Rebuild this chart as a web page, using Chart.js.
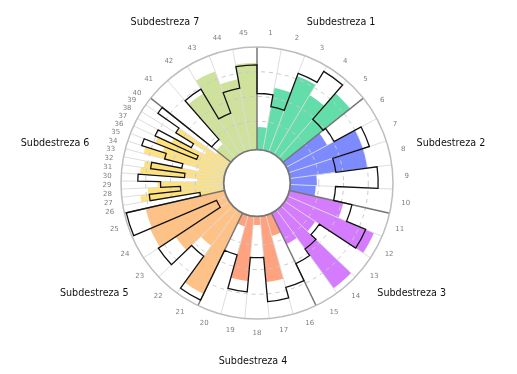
<!DOCTYPE html>
<html>
<head>
<meta charset="utf-8">
<title>Subdestrezas</title>
<script src="https://cdn.jsdelivr.net/npm/chart.js@4.4.1/dist/chart.umd.min.js"></script>
<style>
  html, body { margin: 0; padding: 0; background: #fff; }
  #wrap { width: 517px; height: 374px; }
</style>
</head>
<body>
<div id="wrap"><canvas id="chartSubdestrezas" width="517" height="374"></canvas></div>
<script>
// ---------------------------------------------------------------
// Datos
// ---------------------------------------------------------------
const ITEMS = ['1','2','3','4','5','6','7','8','9','10','11','12','13','14','15',
  '16','17','18','19','20','21','22','23','24','25','26','27','28','29','30',
  '31','32','33','34','35','36','37','38','39','40','41','42','43','44','45'];

const GROUPS = ['Subdestreza 1','Subdestreza 2','Subdestreza 3','Subdestreza 4',
  'Subdestreza 5','Subdestreza 6','Subdestreza 7'];
const GROUP_SIZES = [5, 5, 5, 5, 5, 15, 5];
const GROUP_COLORS = ['#63dda9', '#7d8bff', '#d47cfd', '#ffa27f', '#ffc286', '#ffe27c', '#cfe29d'];

// barras de color (puntaje)
const SCORES = [19, 60, 78, 66, 83,
  43, 75, 75, 23, 22,
  52, 91, 33, 94, 31,
  18, 63, 5, 62, 8,
  87, 41, 61, 80, 78,
  23, 81, 73, 63, 23, 81, 78, 23, 81, 63, 73, 58, 23, 58, 13,
  15, 68, 83, 69, 84];

// contorno negro (referencia)
const REFERENCE = [53, 41, 81, 94, 48,
  51, 82, 43, 85, 42,
  61, 82, 38, 45, 53,
  72, 83, 38, 73, 38,
  94, 54, 82, 7, 98,
  21, 72, 40, 60, 83, 36, 71, 40, 59, 85, 28, 76, 38, 59, 85,
  21, 73, 38, 60, 82];

const R_MIN = -37.5;
const R_MAX = 100;
const RADIAL_TICKS = [25, 50, 75];

// ---------------------------------------------------------------
const HOLE = 0.245;
const barAngles = [];
const barColors = [];
const groupStart = [];
GROUP_SIZES.forEach((n, g) => {
  groupStart.push(barAngles.length);
  for (let k = 0; k < n; k++) {
    barAngles.push(360 / GROUP_SIZES.length / n);
    barColors.push(GROUP_COLORS[g]);
  }
});

const polarDecor = {
  id: 'polarDecor',
  afterDraw(chart) {
    const ctx = chart.ctx;
    const scale = chart.scales.r;
    const cx = scale.xCenter, cy = scale.yCenter;
    const R = scale.drawingArea;
    const hole = R * HOLE;
    const bars = chart.getDatasetMeta(1).data;
    const outl = chart.getDatasetMeta(0).data;
    const ray = (a, r0, r1) => {
      ctx.beginPath();
      ctx.moveTo(cx + Math.cos(a) * r0, cy + Math.sin(a) * r0);
      ctx.lineTo(cx + Math.cos(a) * r1, cy + Math.sin(a) * r1);
      ctx.stroke();
    };
    ctx.save();
    // radios finos entre barras
    ctx.strokeStyle = '#d9d9d9';
    ctx.lineWidth = 0.9;
    bars.forEach((arc, i) => { if (!groupStart.includes(i)) ray(arc.startAngle, hole, R); });
    // separación de subdestrezas
    ctx.strokeStyle = '#767676';
    ctx.lineWidth = 1.5;
    groupStart.forEach(i => ray(bars[i].startAngle, hole, R));

    // contorno escalonado de la referencia
    ctx.strokeStyle = '#111';
    ctx.lineWidth = 1.3;
    ctx.lineJoin = 'miter';
    ctx.beginPath();
    outl.forEach(arc => ctx.arc(cx, cy, arc.outerRadius, arc.startAngle, arc.endAngle));
    ctx.closePath();
    ctx.stroke();

    // circulo exterior
    ctx.strokeStyle = '#bdbdbd';
    ctx.lineWidth = 1.5;
    ctx.beginPath();
    ctx.arc(cx, cy, R, 0, Math.PI * 2);
    ctx.stroke();

    // hueco central
    ctx.fillStyle = '#fff';
    ctx.strokeStyle = '#777';
    ctx.lineWidth = 1.8;
    ctx.beginPath();
    ctx.arc(cx, cy, hole, 0, Math.PI * 2);
    ctx.fill();
    ctx.stroke();

    // etiquetas de items
    ctx.fillStyle = '#808080';
    ctx.font = '7px "DejaVu Sans"';
    ctx.textAlign = 'center';
    ctx.textBaseline = 'middle';
    bars.forEach((arc, i) => {
      const a = (arc.startAngle + arc.endAngle) / 2;
      ctx.fillText(ITEMS[i], cx + Math.cos(a) * (R + 14), cy + Math.sin(a) * (R + 14));
    });

    // etiquetas de subdestrezas
    ctx.fillStyle = '#111';
    ctx.font = '9.6px "DejaVu Sans"';
    GROUPS.forEach((name, g) => {
      const first = bars[groupStart[g]];
      const last = bars[groupStart[g] + GROUP_SIZES[g] - 1];
      const a = (first.startAngle + last.endAngle) / 2;
      ctx.fillText(name, cx - 4 + Math.cos(a) * 203, cy + Math.sin(a) * 178);
    });
    ctx.restore();
  }
};

new Chart(document.getElementById('chartSubdestrezas').getContext('2d'), {
  type: 'polarArea',
  data: {
    labels: ITEMS,
    datasets: [
      { label: 'Referencia', data: REFERENCE, angle: barAngles, backgroundColor: 'rgba(0,0,0,0)', borderWidth: 0, order: 0 },
      { label: 'Puntaje', data: SCORES, angle: barAngles, backgroundColor: barColors, borderWidth: 0, order: 1 }
    ]
  },
  options: {
    responsive: false,
    animation: false,
    layout: { padding: { left: 120, right: 123, top: 47, bottom: 54 } },
    plugins: { legend: { display: false }, tooltip: { enabled: false } },
    scales: {
      r: {
        min: R_MIN,
        max: R_MAX,
        startAngle: 0,
        ticks: { display: false, stepSize: 25 },
        angleLines: { display: false },
        pointLabels: { display: false },
        grid: {
          circular: true,
          z: 1,
          lineWidth: 1,
          color: c => RADIAL_TICKS.includes(c.tick.value) ? '#c9c9c9' : 'rgba(0,0,0,0)'
        },
        border: { dash: [4, 4] }
      }
    }
  },
  plugins: [polarDecor]
});
</script>
</body>
</html>
